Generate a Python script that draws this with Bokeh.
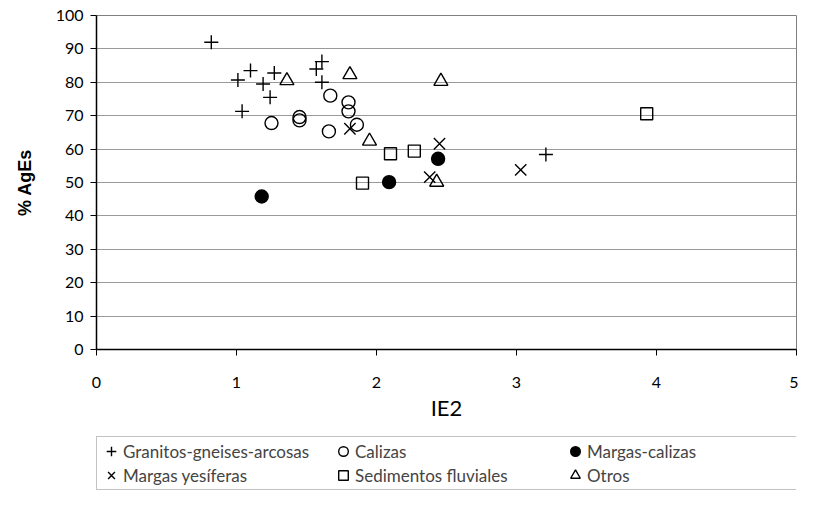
from bokeh.plotting import figure
from bokeh.models import Legend, LegendItem, FixedTicker, Range1d
from bokeh.layouts import column
from bokeh.embed import file_html
from bokeh.resources import INLINE

# ---- data ----
granitos_x = [0.82, 1.01, 1.10, 1.19, 1.27, 1.24, 1.04, 1.61, 1.57, 1.61, 3.21]
granitos_y = [92.0, 80.7, 83.5, 79.5, 82.8, 75.5, 71.3, 86.2, 84.0, 80.0, 58.4]

calizas_x = [1.67, 1.80, 1.80, 1.45, 1.45, 1.25, 1.66, 1.86]
calizas_y = [76.0, 74.0, 71.3, 69.6, 68.6, 67.8, 65.3, 67.3]

margas_calizas_x = [1.18, 2.09, 2.44]
margas_calizas_y = [45.8, 50.1, 57.1]

yesiferas_x = [1.81, 2.45, 2.38, 3.03]
yesiferas_y = [66.1, 61.6, 51.6, 53.8]

fluviales_x = [1.90, 2.10, 2.27, 3.93]
fluviales_y = [49.8, 58.6, 59.4, 70.6]

otros_x = [1.36, 1.81, 1.95, 2.46, 2.43]
otros_y = [80.5, 82.3, 62.4, 80.3, 50.1]

x_ticks = [0, 1, 2, 3, 4, 5]
y_ticks = [0, 10, 20, 30, 40, 50, 60, 70, 80, 90, 100]

series = {
    "Granitos-gneises-arcosas": (granitos_x, granitos_y, "cross", 14, None),
    "Calizas": (calizas_x, calizas_y, "circle", 13, None),
    "Margas-calizas": (margas_calizas_x, margas_calizas_y, "circle", 13, "black"),
    "Margas yesíferas": (yesiferas_x, yesiferas_y, "x", 16, None),
    "Sedimentos fluviales": (fluviales_x, fluviales_y, "square", 12, None),
    "Otros": (otros_x, otros_y, "triangle", 14, None),
}
# legend fills column by column: (row1, row2) for each column
legend_order = ["Granitos-gneises-arcosas", "Margas yesíferas",
                "Calizas", "Sedimentos fluviales",
                "Margas-calizas", "Otros"]

FONT = "Lato"

p = figure(width=798, height=436, output_backend="svg", toolbar_location=None,
           x_range=Range1d(0, 5), y_range=Range1d(0, 100),
           min_border_left=96, min_border_top=15, min_border_right=2,
           min_border_bottom=87)

p.background_fill_color = "white"
p.border_fill_color = "white"
p.outline_line_color = "#808080"
p.outline_line_width = 1

p.xgrid.grid_line_color = None
p.ygrid.grid_line_color = "#9a9a9a"
p.ygrid.grid_line_width = 1

p.xaxis.ticker = FixedTicker(ticks=x_ticks)
p.yaxis.ticker = FixedTicker(ticks=y_ticks)

for ax in (p.xaxis, p.yaxis):
    ax.axis_line_color = "black"
    ax.axis_line_width = 1.5
    ax.major_tick_line_color = "black"
    ax.major_tick_line_width = 1
    ax.major_tick_in = 0
    ax.major_tick_out = 6
    ax.minor_tick_line_color = None
    ax.major_label_text_font = FONT
    ax.major_label_text_font_size = "16px"
    ax.major_label_text_color = "black"
    ax.axis_label_text_color = "black"

p.xaxis.major_label_standoff = 21
p.yaxis.major_label_standoff = 7

p.xaxis.axis_label = "IE2"
p.xaxis.axis_label_text_font = FONT
p.xaxis.axis_label_text_font_style = "normal"
p.xaxis.axis_label_text_font_size = "22px"
p.xaxis.axis_label_standoff = 3

p.yaxis.axis_label = "% AgEs"
p.yaxis.axis_label_text_font = "Liberation Sans"
p.yaxis.axis_label_text_font_style = "bold"
p.yaxis.axis_label_text_font_size = "18px"
p.yaxis.axis_label_standoff = 18

# second strip holding the legend (its frame is aligned with the main frame)
p2 = figure(width=798, height=54, output_backend="svg", toolbar_location=None,
            x_range=Range1d(-2, -1), y_range=Range1d(-2, -1),
            min_border_left=0, min_border_right=0, min_border_top=0,
            min_border_bottom=0)
p2.axis.visible = False
p2.grid.grid_line_color = None
p2.outline_line_color = None
p2.background_fill_color = "white"
p2.border_fill_color = "white"

proxies = {}
for label, (xs, ys, marker, size, fill) in series.items():
    p.scatter(xs, ys, marker=marker, size=size, line_color="black",
              line_width=1.4, fill_color=fill)
    # same data, outside the strip's visible range: used only for legend glyphs
    proxies[label] = p2.scatter(xs, ys, marker=marker, size=size,
                                line_color="black", line_width=1.4,
                                fill_color=fill)

items = [LegendItem(label=lab, renderers=[proxies[lab]]) for lab in legend_order]

legend = Legend(items=items, ncols=3, location=(0, 0),
                label_text_font=FONT, label_text_font_size="17px",
                glyph_width=24, glyph_height=24, label_standoff=0,
                label_width=208, label_height=20, spacing=0, padding=2,
                margin=0, border_line_color="#888888", border_line_width=1,
                background_fill_color="white", background_fill_alpha=1)
p2.add_layout(legend, "center")

layout = column(p, p2, spacing=0)
open("out.html", "w").write(file_html(layout, INLINE))
